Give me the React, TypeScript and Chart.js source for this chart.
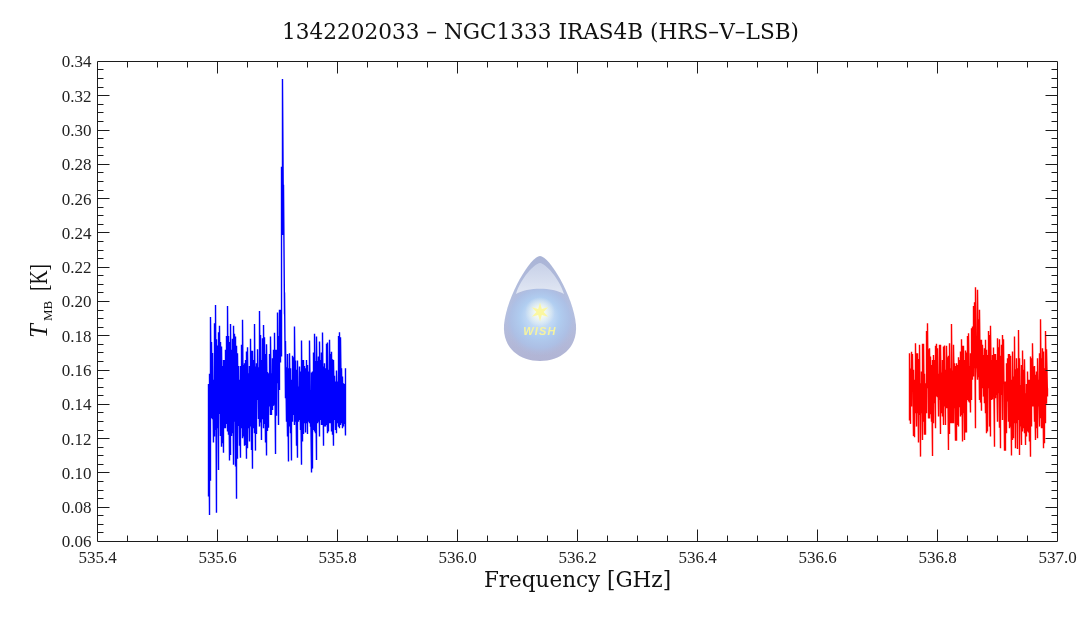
import React, { useEffect, useRef } from "react";
import { Chart, registerables } from "chart.js";

Chart.register(...registerables);

const chartTitle = "1342202033 – NGC1333 IRAS4B (HRS–V–LSB)";
const xAxisTitle = "Frequency [GHz]";

const blueFreq = [
535.585,535.5867,535.5883,535.59,535.5917,535.5933,535.595,535.5967,535.5983,535.6,535.6017,535.6033,535.605,535.6067,535.6083,535.61,535.6117,535.6133,535.615,535.6167,535.6183,535.62,535.6217,535.6233,535.625,535.6267,535.6283,535.63,535.6317,535.6333,535.635,535.6367,535.6383,535.64,535.6417,535.6433,535.645,535.6467,535.6483,535.65,535.6517,535.6533,535.655,535.6567,535.6583,535.66,535.6617,535.6633,535.665,535.6667,535.6683,535.67,535.6717,535.6733,535.675,535.6767,535.6783,535.68,535.6817,535.6833,535.685,535.6867,535.6883,535.69,535.6917,535.6933,535.695,535.6967,535.6983,535.7,535.7017,535.7033,535.705,535.7067,535.7083,535.71,535.7117,535.7133,535.715,535.7167,535.7183,535.72,535.7217,535.7233,535.725,535.7267,535.7283,535.73,535.7317,535.7333,535.735,535.7367,535.7383,535.74,535.7417,535.7433,535.745,535.7467,535.7483,535.75,535.7517,535.7533,535.755,535.7567,535.7583,535.76,535.7617,535.7633,535.765,535.7667,535.7683,535.77,535.7717,535.7733,535.775,535.7767,535.7783,535.78,535.7817,535.7833,535.785,535.7867,535.7883,535.79,535.7917,535.7933,535.795,535.7967,535.7983,535.8,535.8017,535.8033,535.805,535.8067,535.8083,535.81,535.8117,535.8133];

const blueHigh = [
.1519,.1578,.1910,.1764,.1700,.1543,.1873,.1980,.1780,.1743,.1821,.1858,.1764,.1737,.1624,.1659,.1659,.1718,.1799,.1974,.1799,.1764,.1869,.1718,.1782,.1858,.1811,.1795,.1741,.1698,.1624,.1543,.1624,.1747,.1893,.1630,.1640,.1659,.1708,.1733,.1581,.1624,.1782,.1712,.1712,.1659,.1869,.1620,.1640,.1721,.1616,.1945,.1805,.1659,.1786,.1863,.1791,.1694,.1751,.1589,.1581,.1694,.1795,.1581,.1669,.1718,.1817,.1718,.1718,.1935,.1799,.1951,.1951,.2785,.3298,.2680,.2052,.1770,.1616,.1694,.1611,.1698,.1611,.1543,.1683,.1675,.1854,.1655,.1601,.1655,.1504,.1620,.1591,.1772,.1659,.1659,.1624,.1611,.1659,.1630,.1591,.1772,.1484,.1585,.1591,.1702,.1811,.1653,.1795,.1653,.1679,.1766,.1659,.1702,.1819,.1620,.1640,.1611,.1753,.1760,.1601,.1776,.1694,.1706,.1663,.1659,.1566,.1533,.1597,.1533,.1799,.1821,.1791,.1611,.1562,.1523,.1519,.1611];

const blueLow = [
.0862,.0755,.0955,.1319,.1313,.1177,.1212,.1251,.0768,.1260,.1017,.1344,.1216,.1153,.1173,.1118,.1260,.1260,.1286,.1241,.1222,.1072,.1105,.1216,.1231,.1047,.1299,.1037,.0850,.1083,.1274,.1159,.1089,.1260,.1202,.1212,.1159,.1163,.1083,.1144,.1260,.1183,.1270,.1134,.1025,.1260,.1231,.1130,.1227,.1426,.1315,.1270,.1294,.1192,.1313,.1260,.1286,.1177,.1101,.1245,.1264,.1387,.1338,.1338,.1367,.1391,.1397,.1111,.1334,.1523,.1280,.1484,.1644,.1679,.2388,.2388,.1926,.1436,.1299,.1212,.1066,.1270,.1231,.1072,.1299,.1338,.1280,.1299,.1159,.1089,.1299,.1309,.1251,.1047,.1183,.1227,.1290,.1235,.1290,.1227,.1299,.1290,.1270,.1002,.1025,.1251,.1241,.1231,.1076,.1290,.1299,.1212,.1309,.1280,.1280,.1159,.1270,.1270,.1280,.1231,.1241,.1290,.1290,.1241,.1222,.1159,.1309,.1251,.1231,.1290,.1270,.1260,.1280,.1290,.1260,.1270,.1286,.1218];

const redFreq = [
536.7533,536.755,536.7567,536.7583,536.76,536.7617,536.7633,536.765,536.7667,536.7683,536.77,536.7717,536.7733,536.775,536.7767,536.7783,536.78,536.7817,536.7833,536.785,536.7867,536.7883,536.79,536.7917,536.7933,536.795,536.7967,536.7983,536.8,536.8017,536.8033,536.805,536.8067,536.8083,536.81,536.8117,536.8133,536.815,536.8167,536.8183,536.82,536.8217,536.8233,536.825,536.8267,536.8283,536.83,536.8317,536.8333,536.835,536.8367,536.8383,536.84,536.8417,536.8433,536.845,536.8467,536.8483,536.85,536.8517,536.8533,536.855,536.8567,536.8583,536.86,536.8617,536.8633,536.865,536.8667,536.8683,536.87,536.8717,536.8733,536.875,536.8767,536.8783,536.88,536.8817,536.8833,536.885,536.8867,536.8883,536.89,536.8917,536.8933,536.895,536.8967,536.8983,536.9,536.9017,536.9033,536.905,536.9067,536.9083,536.91,536.9117,536.9133,536.915,536.9167,536.9183,536.92,536.9217,536.9233,536.925,536.9267,536.9283,536.93,536.9317,536.9333,536.935,536.9367,536.9383,536.94,536.9417,536.9433,536.945,536.9467,536.9483,536.95,536.9517,536.9533,536.955,536.9567,536.9583,536.96,536.9617,536.9633,536.965,536.9667,536.9683,536.97,536.9717,536.9733,536.975,536.9767,536.9783,536.98,536.9817,536.9833];

const redHigh = [
.1698,.1609,.1706,.1694,.1601,.1543,.1756,.1698,.1698,.1665,.1747,.1523,.1591,.1753,.1753,.1578,.1523,.1828,.1873,.1721,.1727,.1679,.1630,.1659,.1688,.1659,.1741,.1753,.1727,.1578,.1747,.1747,.1585,.1659,.1737,.1743,.1601,.1741,.1675,.1683,.1756,.1611,.1869,.1597,.1747,.1640,.1624,.1640,.1630,.1675,.1659,.1708,.1780,.1741,.1741,.1659,.1714,.1702,.1799,.1815,.1624,.1698,.1844,.1854,.1974,.1996,.2083,.1683,.2068,.1896,.1951,.1776,.1776,.1747,.1688,.1727,.1776,.1718,.1688,.1828,.1805,.1858,.1659,.1688,.1731,.1694,.1694,.1659,.1786,.1733,.1780,.1683,.1747,.1805,.1780,.1533,.1533,.1640,.1669,.1694,.1694,.1683,.1543,.1708,.1562,.1795,.1605,.1669,.1611,.1834,.1669,.1513,.1630,.1714,.1601,.1663,.1465,.1519,.1591,.1543,.1543,.1679,.1669,.1756,.1620,.1624,.1572,.1591,.1669,.1543,.1698,.1896,.1669,.1727,.1708,.1611,.1828,.1721,.1494];

const redLow = [
.1305,.1286,.1387,.1539,.1216,.1208,.1348,.1270,.1348,.1177,.1338,.1095,.1348,.1192,.1299,.1222,.1222,.1348,.1494,.1317,.1317,.1342,.1299,.1099,.1290,.1406,.1260,.1445,.1441,.1329,.1426,.1227,.1348,.1329,.1280,.1387,.1280,.1377,.1377,.1134,.1227,.1290,.1290,.1290,.1290,.1377,.1188,.1188,.1280,.1270,.1383,.1329,.1338,.1183,.1348,.1192,.1235,.1235,.1426,.1416,.1410,.1352,.1426,.1543,.1562,.1611,.1260,.1611,.1543,.1558,.1426,.1410,.1362,.1494,.1445,.1406,.1348,.1231,.1241,.1494,.1270,.1212,.1426,.1430,.1445,.1153,.1436,.1455,.1299,.1465,.1264,.1144,.1455,.1309,.1533,.1130,.1130,.1231,.1416,.1299,.1260,.1270,.1101,.1192,.1202,.1290,.1144,.1290,.1140,.1309,.1105,.1270,.1163,.1241,.1260,.1231,.1163,.1212,.1241,.1235,.1183,.1095,.1270,.1387,.1387,.1299,.1192,.1260,.1202,.1387,.1270,.1319,.1260,.1260,.1144,.1173,.1290,.1403,.1445];

const xBounds = [535.4, 537.0];
const yBounds = [0.06, 0.34];
const xSteps = { major: 0.2, minor: 0.05 };
const ySteps = { major: 0.02, minor: 0.005 };

function spectrum(freq: number[], low: number[], high: number[]) {
  const pts: { x: number; y: number }[] = [];
  const n = Math.min(freq.length, low.length, high.length);
  for (let i = 0; i < n; i++) {
    pts.push({ x: freq[i], y: low[i] });
    pts.push({ x: freq[i], y: high[i] });
  }
  return pts;
}

const frameAndTicks = {
  id: "frameAndTicks",
  afterDatasetsDraw(chart: any) {
    const { ctx, chartArea: a, scales } = chart;
    const x = scales.x;
    const y = scales.y;
    ctx.save();
    ctx.strokeStyle = "#1c1c1c";
    ctx.lineWidth = 1;
    const snap = (v: number) => Math.floor(v) + 0.5;
    ctx.beginPath();
    ctx.rect(snap(a.left), snap(a.top), snap(a.right) - snap(a.left), snap(a.bottom) - snap(a.top));
    const nx = Math.round((xBounds[1] - xBounds[0]) / xSteps.minor);
    const ratioX = Math.round(xSteps.major / xSteps.minor);
    for (let i = 1; i < nx; i++) {
      const px = snap(x.getPixelForValue(xBounds[0] + i * xSteps.minor));
      const len = i % ratioX === 0 ? 12 : 6;
      ctx.moveTo(px, snap(a.bottom));
      ctx.lineTo(px, snap(a.bottom) - len);
      ctx.moveTo(px, snap(a.top));
      ctx.lineTo(px, snap(a.top) + len);
    }
    const ny = Math.round((yBounds[1] - yBounds[0]) / ySteps.minor);
    const ratioY = Math.round(ySteps.major / ySteps.minor);
    for (let i = 1; i < ny; i++) {
      const py = snap(y.getPixelForValue(yBounds[0] + i * ySteps.minor));
      const len = i % ratioY === 0 ? 12 : 6;
      ctx.moveTo(snap(a.left), py);
      ctx.lineTo(snap(a.left) + len, py);
      ctx.moveTo(snap(a.right), py);
      ctx.lineTo(snap(a.right) - len, py);
    }
    ctx.stroke();

    // y axis title with italic T and subscript MB
    ctx.translate(47, 338);
    ctx.rotate(-Math.PI / 2);
    ctx.fillStyle = "#111";
    ctx.textBaseline = "alphabetic";
    ctx.textAlign = "left";
    ctx.font = 'italic 25px "Liberation Serif"';
    ctx.fillText("T", 0, 0);
    ctx.font = '13px "Liberation Serif"';
    ctx.fillText("MB", 17, 5);
    ctx.font = '25px "Liberation Serif"';
    ctx.translate(47, 0);
    ctx.scale(0.78, 1);
    ctx.fillText("[K]", 0, 0);
    ctx.restore();
  },
};

const wishLogo = {
  id: "wishLogo",
  afterDatasetsDraw(chart: any) {
    const { ctx } = chart;
    const cx = 540;
    const drop = (top: number, rad: number, bottomY: number, midY: number) => {
      ctx.beginPath();
      ctx.moveTo(cx, top);
      ctx.bezierCurveTo(cx + rad * 0.25, top, cx + rad * 0.92, midY - 30, cx + rad, midY);
      ctx.bezierCurveTo(cx + rad * 1.04, bottomY - 12, cx + rad * 0.55, bottomY, cx, bottomY);
      ctx.bezierCurveTo(cx - rad * 0.55, bottomY, cx - rad * 1.04, bottomY - 12, cx - rad, midY);
      ctx.bezierCurveTo(cx - rad * 0.92, midY - 30, cx - rad * 0.25, top, cx, top);
      ctx.closePath();
    };
    ctx.save();
    const body = ctx.createLinearGradient(0, 256, 0, 361);
    body.addColorStop(0, "#aab4d6");
    body.addColorStop(0.5, "#b6c1e0");
    body.addColorStop(1, "#b1b4d4");
    drop(256, 36, 361, 325);
    ctx.fillStyle = body;
    ctx.fill();

    ctx.save();
    drop(256, 36, 361, 325);
    ctx.clip();
    const globe = ctx.createRadialGradient(cx, 314, 3, cx, 320, 36);
    globe.addColorStop(0, "rgba(218,235,252,1)");
    globe.addColorStop(0.5, "rgba(176,205,240,1)");
    globe.addColorStop(0.8, "rgba(172,192,230,0.9)");
    globe.addColorStop(1, "rgba(176,186,222,0)");
    ctx.fillStyle = globe;
    ctx.beginPath();
    ctx.arc(cx, 320, 36, 0, Math.PI * 2);
    ctx.fill();

    const shine = ctx.createLinearGradient(0, 264, 0, 292);
    shine.addColorStop(0, "#c8d1e8");
    shine.addColorStop(1, "#e0e6f3");
    ctx.fillStyle = shine;
    ctx.beginPath();
    ctx.moveTo(cx, 263);
    ctx.bezierCurveTo(cx + 6, 264, cx + 19, 278, cx + 24, 294);
    ctx.bezierCurveTo(cx + 12, 287, cx - 12, 287, cx - 24, 294);
    ctx.bezierCurveTo(cx - 19, 278, cx - 6, 264, cx, 263);
    ctx.closePath();
    ctx.fill();
    ctx.restore();

    const glow = ctx.createRadialGradient(cx, 312, 1, cx, 312, 15);
    glow.addColorStop(0, "rgba(255,255,235,0.95)");
    glow.addColorStop(1, "rgba(255,255,235,0)");
    ctx.fillStyle = glow;
    ctx.beginPath();
    ctx.arc(cx, 312, 15, 0, Math.PI * 2);
    ctx.fill();

    ctx.fillStyle = "#fbf7a0";
    ctx.beginPath();
    for (let i = 0; i < 12; i++) {
      const rad = i % 2 === 0 ? 9.5 : 3.6;
      const ang = (i * Math.PI) / 6 - Math.PI / 2;
      const px = cx + rad * Math.cos(ang);
      const py = 312 + rad * Math.sin(ang);
      if (i === 0) ctx.moveTo(px, py);
      else ctx.lineTo(px, py);
    }
    ctx.closePath();
    ctx.fill();

    ctx.font = 'italic bold 11px "Liberation Sans"';
    ctx.textAlign = "center";
    ctx.textBaseline = "middle";
    ctx.fillStyle = "#f6f3a0";
    (ctx as any).letterSpacing = "1.2px";
    ctx.fillText("WISH", cx, 332);
    ctx.restore();
  },
};

export default function App() {
  const ref = useRef<HTMLCanvasElement | null>(null);
  useEffect(() => {
    document.body.style.margin = "0";
    const tickFont = { family: '"Liberation Serif"', size: 17 };
    const chart = new Chart(ref.current as HTMLCanvasElement, {
      type: "line",
      data: {
        datasets: [
          {
            label: "HRS-V-LSB low band",
            data: spectrum(blueFreq, blueLow, blueHigh),
            borderColor: "#0000ff",
            borderWidth: 1.4,
            pointRadius: 0,
            tension: 0,
          },
          {
            label: "HRS-V-LSB high band",
            data: spectrum(redFreq, redLow, redHigh),
            borderColor: "#ff0000",
            borderWidth: 1.4,
            pointRadius: 0,
            tension: 0,
          },
        ],
      },
      options: {
        responsive: false,
        animation: false,
        parsing: false,
        normalized: false,
        layout: { padding: 0 },
        plugins: {
          legend: { display: false },
          tooltip: { enabled: false },
          title: {
            display: true,
            text: chartTitle,
            color: "#111",
            font: { family: '"DejaVu Serif"', size: 21.6, weight: "normal" },
            padding: { top: 20, bottom: 15.5 },
          },
        },
        scales: {
          x: {
            type: "linear",
            min: xBounds[0],
            max: xBounds[1],
            grid: { display: false, drawTicks: false },
            border: { display: false },
            ticks: {
              stepSize: xSteps.major,
              maxRotation: 0,
              color: "#222",
              font: tickFont,
              padding: 7,
              callback: (v: any) => Number(v).toFixed(1),
            },
            title: {
              display: true,
              text: xAxisTitle,
              color: "#111",
              font: { family: '"DejaVu Serif"', size: 21.5 },
              padding: { top: 0, bottom: 24 },
            },
            afterFit: (s: any) => {
              s.height = 76.5;
              s.paddingLeft = 0;
              s.paddingRight = 0;
            },
          },
          y: {
            type: "linear",
            min: yBounds[0],
            max: yBounds[1],
            grid: { display: false, drawTicks: false },
            border: { display: false },
            ticks: {
              stepSize: ySteps.major,
              color: "#222",
              font: tickFont,
              padding: 6,
              labelOffset: 1.5,
              callback: (v: any) => Number(v).toFixed(2),
            },
            afterFit: (s: any) => {
              s.width = 97.5;
            },
          },
          rightMargin: {
            type: "linear",
            position: "right",
            display: true,
            min: yBounds[0],
            max: yBounds[1],
            grid: { display: false, drawTicks: false },
            border: { display: false },
            ticks: { display: false },
            afterFit: (s: any) => {
              s.width = 23.5;
            },
          },
        },
      },
      plugins: [wishLogo, frameAndTicks],
    } as any);
    return () => chart.destroy();
  }, []);
  return <canvas ref={ref} width={1081} height={618} style={{ display: "block" }} />;
}
